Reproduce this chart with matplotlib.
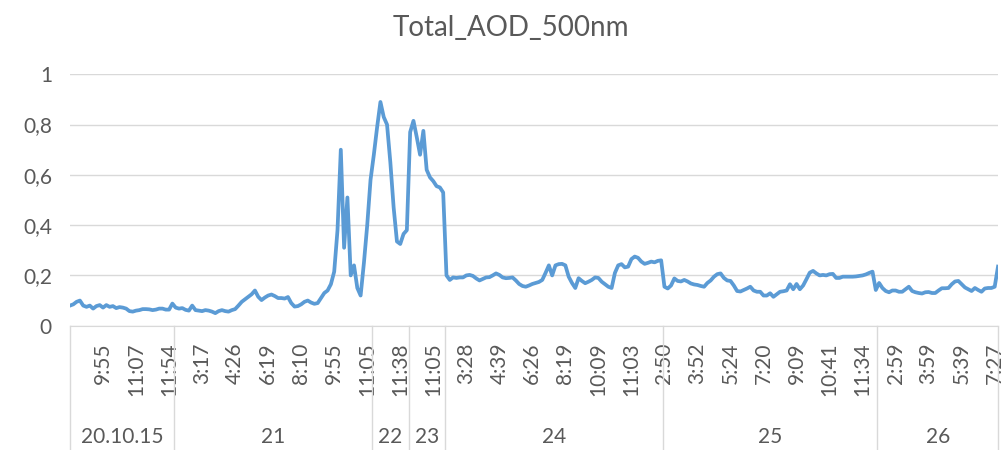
import numpy as np
import matplotlib.pyplot as plt
from matplotlib.transforms import blended_transform_factory

plt.rcParams['font.family'] = ['Lato', 'DejaVu Sans']

title = 'Total_AOD_500nm'

# one value per measurement (category axis, Excel style)
aod = [
    # 20.10.15
    0.080, 0.085, 0.095, 0.100, 0.080, 0.075, 0.080, 0.068, 0.078, 0.082,
    0.072, 0.082, 0.075, 0.078, 0.070, 0.074, 0.072, 0.068, 0.058, 0.056,
    0.060, 0.062, 0.066, 0.066, 0.065, 0.062, 0.064, 0.068, 0.068, 0.064,
    0.064, 0.088,
    # 21
    0.072, 0.068, 0.070, 0.063, 0.060, 0.080, 0.062, 0.060,
    0.058, 0.062, 0.060, 0.056, 0.050, 0.058, 0.062, 0.058, 0.056, 0.062,
    0.066, 0.080, 0.095, 0.105, 0.115, 0.125, 0.140, 0.115, 0.102, 0.112,
    0.120, 0.124, 0.118, 0.110, 0.110, 0.108, 0.114, 0.090, 0.076, 0.078,
    0.085, 0.095, 0.100, 0.092, 0.087, 0.090, 0.110, 0.130, 0.140, 0.165,
    0.215, 0.380, 0.700, 0.310, 0.510, 0.200, 0.240, 0.150, 0.120, 0.250,
    0.400, 0.580,
    # 22
    0.680, 0.790, 0.890, 0.830, 0.800, 0.650, 0.470, 0.335,
    0.325, 0.365, 0.380,
    # 23
    0.770, 0.815, 0.750, 0.680, 0.775, 0.620, 0.590,
    0.575, 0.555, 0.550, 0.530,
    # 24
    0.200, 0.182, 0.192, 0.190, 0.192, 0.192,
    0.200, 0.202, 0.198, 0.188, 0.180, 0.186, 0.192, 0.193, 0.200, 0.208,
    0.202, 0.192, 0.189, 0.190, 0.192, 0.180, 0.166, 0.158, 0.155, 0.160,
    0.166, 0.170, 0.174, 0.182, 0.210, 0.240, 0.200, 0.240, 0.245, 0.246,
    0.240, 0.195, 0.170, 0.150, 0.189, 0.178, 0.169, 0.175, 0.182, 0.192,
    0.190, 0.175, 0.165, 0.155, 0.150, 0.210, 0.240, 0.245, 0.232, 0.235,
    0.265, 0.275, 0.270, 0.255, 0.246, 0.250, 0.255, 0.252, 0.258, 0.260,
    # 25
    0.155, 0.148, 0.160, 0.188, 0.178, 0.176, 0.182, 0.176, 0.168, 0.164,
    0.162, 0.158, 0.155, 0.170, 0.180, 0.195, 0.205, 0.208, 0.190, 0.180,
    0.178, 0.160, 0.138, 0.136, 0.142, 0.148, 0.155, 0.140, 0.135, 0.135,
    0.120, 0.120, 0.129, 0.115, 0.125, 0.135, 0.137, 0.140, 0.165, 0.145,
    0.166, 0.145, 0.160, 0.185, 0.211, 0.218, 0.208, 0.200, 0.202, 0.200,
    0.205, 0.206, 0.190, 0.190, 0.195, 0.195, 0.195, 0.195, 0.196, 0.198,
    0.200, 0.204, 0.210, 0.215, 0.142,
    # 26
    0.170, 0.150, 0.138, 0.133, 0.140,
    0.140, 0.135, 0.135, 0.145, 0.155, 0.138, 0.133, 0.130, 0.128, 0.133,
    0.134, 0.130, 0.130, 0.140, 0.149, 0.149, 0.150, 0.165, 0.176, 0.178,
    0.165, 0.152, 0.145, 0.138, 0.150, 0.142, 0.135, 0.148, 0.150, 0.150,
    0.155, 0.235,
]

# time label shown on every 10th measurement
times = ['9:55', '11:07', '11:54', '3:17', '4:26', '6:19', '8:10', '9:55',
         '11:05', '11:38', '11:05', '3:28', '4:39', '6:26', '8:19', '10:09',
         '11:03', '2:50', '3:52', '5:24', '7:20', '9:09', '10:41', '11:34',
         '2:59', '3:59', '5:39', '7:27']
label_step = 10

days = ['20.10.15', '21', '22', '23', '24', '25', '26']
day_counts = [32, 60, 11, 11, 66, 65, 37]

yticks = [0, 0.2, 0.4, 0.6, 0.8, 1.0]
ytick_labels = ['0', '0,2', '0,4', '0,6', '0,8', '1']

txt = '#595959'
grid = '#D9D9D9'

n = len(aod)
x = np.arange(n)

fig = plt.figure(figsize=(10.07, 4.5), dpi=100)
ax = fig.add_axes([70 / 1007, 124.3 / 450, 928 / 1007, 251.4 / 450])

ax.plot(x, aod, color='#5B9BD5', lw=2.7, solid_joinstyle='round')

ax.set_xlim(0, n - 1)
ax.set_ylim(0, 1)
ax.set_yticks(yticks)
ax.set_yticklabels(ytick_labels)
ax.yaxis.grid(True, color=grid, lw=1)
ax.set_axisbelow(True)
for s in ['top', 'right', 'left']:
    ax.spines[s].set_visible(False)
ax.spines['bottom'].set_color(grid)

ax.set_xticks(x[label_step::label_step][:len(times)])
ax.set_xticklabels(times, rotation=90)
ax.tick_params(axis='x', length=0, pad=12, labelsize=15, labelcolor=txt)
ax.tick_params(axis='y', length=0, pad=13, labelsize=15, labelcolor=txt)

# multi-level category separators and day labels
trans = blended_transform_factory(ax.transData, ax.transAxes)
edges = [0.0]
c = 0
for k in day_counts[:-1]:
    c += k
    edges.append(c - 0.5)
edges.append(n - 1)
for e in edges:
    ax.plot([e, e], [0, -0.5], transform=trans, color=grid, lw=1, clip_on=False)
for d, a, b in zip(days, edges[:-1], edges[1:]):
    ax.text((a + b) / 2, -0.443, d, transform=trans, ha='center', va='center',
            fontsize=15, color=txt)

fig.text(511 / 1007, 1 - 28 / 450, title, ha='center', va='center',
         fontsize=20, color=txt)

fig.savefig('out.png', dpi=100)
